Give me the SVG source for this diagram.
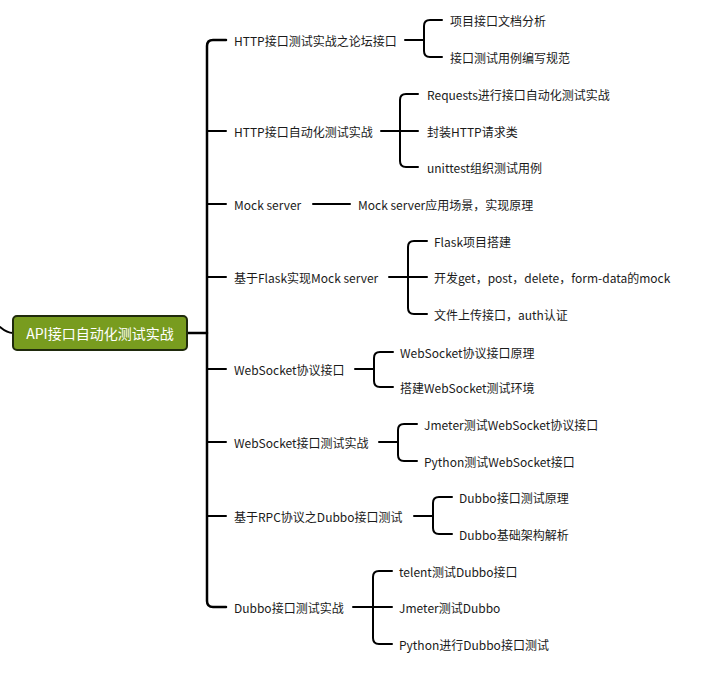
<svg xmlns="http://www.w3.org/2000/svg" width="722" height="674" viewBox="0 0 722 674">
<style>
.l{fill:none;stroke:#000;stroke-width:2;stroke-linecap:round;stroke-linejoin:round}
.t{font-family:"Noto Sans CJK SC","Microsoft YaHei",sans-serif;font-size:12px;fill:#1a1a1a;dominant-baseline:central}
.r{font-family:"Noto Sans CJK SC","Microsoft YaHei",sans-serif;font-size:14px;fill:#fff;dominant-baseline:central;text-anchor:middle}
</style>
<rect width="722" height="674" fill="#fff"/>
<g id="connectors">
<path class="l" d="M0 327 Q7 333 13 333"/>
<path class="l" style="stroke-width:2.5" d="M187 333 H207"/>
<path class="l" style="stroke-width:2.5" d="M226 40 H213 Q207 40 207 46 V601 Q207 607 213 607 H226"/>
<path class="l" d="M207 131 H226 M207 204 H226 M207 277 H226 M207 369 H226 M207 442 H226 M207 516 H226"/>
<!-- 1 -->
<path class="l" d="M405 40 H424"/>
<path class="l" d="M442 20 H430 Q424 20 424 26 V51 Q424 57 430 57 H442"/>
<!-- 2 -->
<path class="l" d="M381 131 H418"/>
<path class="l" d="M418 94 H406 Q400 94 400 100 V161 Q400 167 406 167 H418"/>
<!-- 3 -->
<path class="l" d="M313 204 H350"/>
<!-- 4 -->
<path class="l" d="M389 277 H427"/>
<path class="l" d="M427 241 H414 Q408 241 408 247 V308 Q408 314 414 314 H427"/>
<!-- 5 -->
<path class="l" d="M355 369 H374"/>
<path class="l" d="M393 352 H380 Q374 352 374 358 V381 Q374 387 380 387 H393"/>
<!-- 6 -->
<path class="l" d="M379 442 H398"/>
<path class="l" d="M417 424 H404 Q398 424 398 430 V455 Q398 461 404 461 H417"/>
<!-- 7 -->
<path class="l" d="M414 516 H433"/>
<path class="l" d="M452 497 H439 Q433 497 433 503 V528 Q433 534 439 534 H452"/>
<!-- 8 -->
<path class="l" d="M353 607 H392"/>
<path class="l" d="M392 571 H379 Q373 571 373 577 V638 Q373 644 379 644 H392"/>
</g>
<g id="root">
<rect x="13" y="316" width="174" height="34" rx="4" fill="#789c1f" stroke="#1f2a0c" stroke-width="2"/>
<text class="r" x="100" y="333">API接口自动化测试实战</text>
</g>
<g id="n1"><text class="t" x="234" y="40">HTTP接口测试实战之论坛接口</text></g>
<g id="n1a"><text class="t" x="450" y="20">项目接口文档分析</text></g>
<g id="n1b"><text class="t" x="450" y="57">接口测试用例编写规范</text></g>
<g id="n2"><text class="t" x="234" y="131">HTTP接口自动化测试实战</text></g>
<g id="n2a"><text class="t" x="427" y="94">Requests进行接口自动化测试实战</text></g>
<g id="n2b"><text class="t" x="427" y="131">封装HTTP请求类</text></g>
<g id="n2c"><text class="t" x="427" y="167">unittest组织测试用例</text></g>
<g id="n3"><text class="t" x="234" y="204">Mock server</text></g>
<g id="n3a"><text class="t" x="358" y="204">Mock server应用场景，实现原理</text></g>
<g id="n4"><text class="t" x="234" y="277">基于Flask实现Mock server</text></g>
<g id="n4a"><text class="t" x="434" y="241">Flask项目搭建</text></g>
<g id="n4b"><text class="t" x="434" y="277">开发get，post，delete，form-data的mock</text></g>
<g id="n4c"><text class="t" x="434" y="314">文件上传接口，auth认证</text></g>
<g id="n5"><text class="t" x="234" y="369">WebSocket协议接口</text></g>
<g id="n5a"><text class="t" x="400" y="352">WebSocket协议接口原理</text></g>
<g id="n5b"><text class="t" x="400" y="387">搭建WebSocket测试环境</text></g>
<g id="n6"><text class="t" x="234" y="442">WebSocket接口测试实战</text></g>
<g id="n6a"><text class="t" x="424" y="424">Jmeter测试WebSocket协议接口</text></g>
<g id="n6b"><text class="t" x="424" y="461">Python测试WebSocket接口</text></g>
<g id="n7"><text class="t" x="234" y="516">基于RPC协议之Dubbo接口测试</text></g>
<g id="n7a"><text class="t" x="459" y="497">Dubbo接口测试原理</text></g>
<g id="n7b"><text class="t" x="459" y="534">Dubbo基础架构解析</text></g>
<g id="n8"><text class="t" x="234" y="607">Dubbo接口测试实战</text></g>
<g id="n8a"><text class="t" x="399" y="571">telent测试Dubbo接口</text></g>
<g id="n8b"><text class="t" x="399" y="607">Jmeter测试Dubbo</text></g>
<g id="n8c"><text class="t" x="399" y="644">Python进行Dubbo接口测试</text></g>
</svg>
